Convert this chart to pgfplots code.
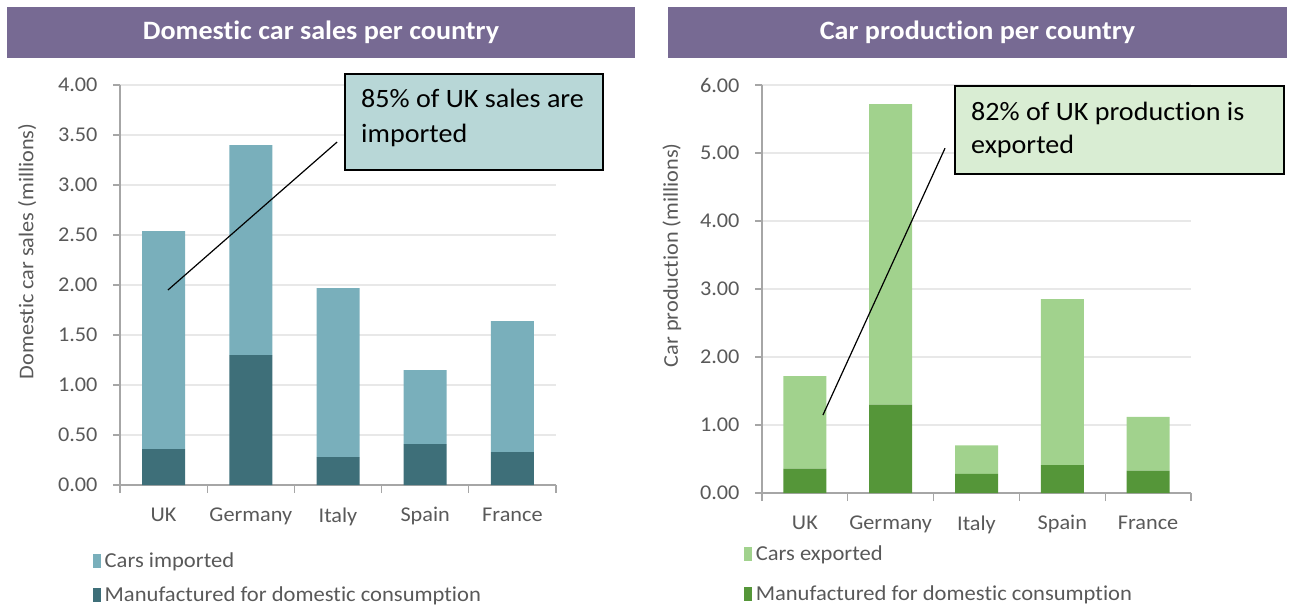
\documentclass[border=0pt]{standalone}
\usepackage{fontspec}
\setmainfont{Carlito}[FakeStretch=1.06, Ligatures={NoCommon}]
\usepackage{pgfplots}
\pgfplotsset{compat=1.18}
\definecolor{titlebar}{RGB}{119,106,147}
\definecolor{tealL}{RGB}{121,175,187}
\definecolor{tealD}{RGB}{62,111,121}
\definecolor{greenL}{RGB}{161,210,141}
\definecolor{greenD}{RGB}{85,150,57}
\definecolor{calloutA}{RGB}{184,215,215}
\definecolor{calloutB}{RGB}{217,237,211}
\definecolor{gridc}{RGB}{232,232,232}
\definecolor{axisc}{RGB}{166,166,166}
\definecolor{textc}{RGB}{89,89,89}
\begin{document}
\begin{tikzpicture}
\path[use as bounding box] (0pt,0pt) rectangle (1293pt,-605pt);
\pgfplotsset{
  common/.style={
    scale only axis,
    xmin=-0.5, xmax=4.5, ymin=0,
    ybar stacked, bar width=43pt,
    axis x line*=bottom, axis y line*=left,
    axis line style={draw=axisc, line width=1.3pt},
    tick align=outside,
    major tick length=7pt, minor tick length=8pt,
    xtick={0,1,2,3,4},
    xticklabels={UK,Germany,Italy,Spain,France},
    minor xtick={-0.5,0.5,...,4.5},
    major x tick style={draw=none},
    every tick/.style={draw=axisc, line width=1.3pt},
    ymajorgrids, grid style={draw=gridc, line width=1.2pt},
    tick label style={font=\fontsize{21}{25}\selectfont, text=textc},
    /pgf/number format/assume math mode=true,
    yticklabel style={/pgf/number format/fixed, /pgf/number format/fixed zerofill, /pgf/number format/precision=2, xshift=-12pt},
    xticklabel style={yshift=-12pt},
    ylabel style={font=\fontsize{21}{25}\selectfont, text=textc, anchor=center},
    legend style={draw=none, fill=none, font=\fontsize{21.3}{25}\selectfont, text=textc, anchor=north west},
    legend cell align=left,
    reverse legend,
  },
  leg/.style={legend image code/.code={\fill[##1] (1pt,-7pt) rectangle (9pt,7pt); \path (11pt,0pt);}},
}
% Left chart
\fill[titlebar] (7pt,-7pt) rectangle (635pt,-58pt);
\node[text=white, font=\fontsize{26.5}{30}\selectfont\bfseries] at (321pt,-32.5pt) {Domestic car sales per country};
\begin{axis}[common,
  at={(120pt,-485pt)}, anchor=south west,
  width=436pt, height=400pt,
  ymax=4, ytick={0,0.5,...,4},
  ylabel={Domestic car sales (millions)},
  ylabel style={at={(axis description cs:-0.213,0.584)}},
  legend style={at={(axis description cs:-0.07,-0.16)}, row sep=13pt},
]
\addplot[fill=tealD, draw=none, leg] coordinates {(0,0.36) (1,1.30) (2,0.28) (3,0.41) (4,0.33)};
\addplot[fill=tealL, draw=none, leg] coordinates {(0,2.18) (1,2.10) (2,1.69) (3,0.74) (4,1.31)};
\legend{Manufactured for domestic consumption, Cars imported}
\coordinate (A1) at (axis cs:0.05,1.95);
\coordinate (A2) at (axis cs:1.99,3.43);
\end{axis}
\draw[black, line width=1.2pt] (A1) -- (A2);
\draw[black, line width=1.5pt, fill=calloutA] (345pt,-74pt) rectangle (603pt,-170pt);
\node[anchor=base west, font=\fontsize{26.5}{30}\selectfont, inner sep=0pt] at (361pt,-107pt) {85\% of UK sales are};
\node[anchor=base west, font=\fontsize{26.5}{30}\selectfont, inner sep=0pt] at (361pt,-142pt) {imported};
% Right chart
\fill[titlebar] (668pt,-7pt) rectangle (1287pt,-58pt);
\node[text=white, font=\fontsize{26.5}{30}\selectfont\bfseries] at (977.5pt,-32.5pt) {Car production per country};
\begin{axis}[common,
  at={(762pt,-493pt)}, anchor=south west,
  width=429pt, height=408pt,
  ymax=6, ytick={0,1,...,6},
  ylabel={Car production (millions)},
  ylabel style={at={(axis description cs:-0.21,0.583)}},
  legend style={at={(axis description cs:-0.05,-0.12)}, row sep=19pt},
]
\addplot[fill=greenD, draw=none, leg] coordinates {(0,0.36) (1,1.30) (2,0.28) (3,0.41) (4,0.33)};
\addplot[fill=greenL, draw=none, leg] coordinates {(0,1.36) (1,4.42) (2,0.42) (3,2.44) (4,0.79)};
\legend{Manufactured for domestic consumption, Cars exported}
\coordinate (B1) at (axis cs:0.21,1.146);
\coordinate (B2) at (axis cs:1.633,5.07);
\end{axis}
\draw[black, line width=1.2pt] (B1) -- (B2);
\draw[black, line width=1.5pt, fill=calloutB] (955pt,-86pt) rectangle (1284pt,-174pt);
\node[anchor=base west, font=\fontsize{26.5}{30}\selectfont, inner sep=0pt] at (971pt,-120pt) {82\% of UK production is};
\node[anchor=base west, font=\fontsize{26.5}{30}\selectfont, inner sep=0pt] at (971pt,-153pt) {exported};
\end{tikzpicture}
\end{document}
